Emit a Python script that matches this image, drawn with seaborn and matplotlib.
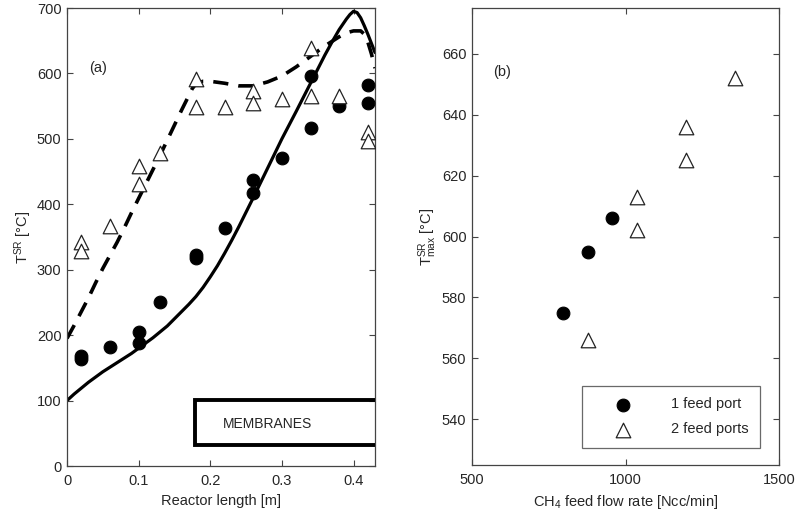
import numpy as np
import pandas as pd
import matplotlib
matplotlib.use('Agg')
import matplotlib.pyplot as plt
from matplotlib.patches import Rectangle
import seaborn as sns

# (a) temperatura ao longo do reator
x_circ = [0.02, 0.02, 0.06, 0.10, 0.10, 0.13, 0.18, 0.18, 0.22, 0.26, 0.26, 0.30, 0.34, 0.34, 0.38, 0.42, 0.42]
t_circ = [168, 163, 182, 205, 188, 250, 323, 318, 364, 437, 417, 470, 596, 517, 550, 583, 555]
x_tri = [0.02, 0.02, 0.06, 0.10, 0.10, 0.13, 0.18, 0.18, 0.22, 0.26, 0.26, 0.30, 0.34, 0.34, 0.38, 0.42, 0.42]
t_tri = [342, 328, 367, 459, 431, 478, 592, 549, 548, 573, 555, 561, 639, 565, 566, 510, 497]

# modelo, 1 porta (linha cheia)
x_sol = [0.0, 0.01, 0.02, 0.03, 0.04, 0.05, 0.06, 0.07, 0.08, 0.09, 0.10, 0.11, 0.12, 0.13, 0.14,
         0.15, 0.16, 0.17, 0.18, 0.19, 0.20, 0.21, 0.22, 0.23, 0.24, 0.25, 0.26, 0.28, 0.30, 0.32,
         0.34, 0.36, 0.37, 0.38, 0.39, 0.395, 0.40, 0.405, 0.41, 0.415, 0.42, 0.425, 0.43]
t_sol = [100, 110, 119, 128, 136, 144, 151, 158, 165, 172, 180, 188, 196, 205, 214,
         225, 236, 247, 259, 273, 289, 306, 325, 345, 366, 388, 410, 455, 500, 542,
         585, 628, 648, 667, 683, 690, 695, 693, 685, 673, 660, 646, 632]

# modelo, 2 portas (tracejada)
x_das = [0.0, 0.01, 0.02, 0.03, 0.04, 0.05, 0.06, 0.07, 0.08, 0.09, 0.10, 0.11, 0.12, 0.13, 0.14,
         0.15, 0.16, 0.17, 0.175, 0.18, 0.19, 0.20, 0.22, 0.24, 0.26, 0.28, 0.30, 0.32, 0.34, 0.36,
         0.38, 0.39, 0.40, 0.41, 0.415, 0.42, 0.425, 0.43]
t_das = [195, 215, 236, 257, 280, 302, 322, 342, 364, 387, 409, 431, 453, 475, 498,
         521, 544, 566, 577, 584, 588, 588, 585, 581, 581, 587, 596, 610, 626, 642,
         656, 662, 665, 665, 660, 648, 630, 608]

# (b) temperatura maxima vs vazao de CH4
q1 = [795, 877, 957]
tmax1 = [575, 595, 606]
q2 = [877, 1037, 1037, 1197, 1197, 1357]
tmax2 = [566, 613, 602, 636, 625, 652]

sns.set_style('white')
plt.rcParams['font.family'] = ['Liberation Sans', 'DejaVu Sans']
plt.rcParams['axes.edgecolor'] = '#444444'
plt.rcParams['mathtext.fontset'] = 'custom'
plt.rcParams['mathtext.rm'] = 'Liberation Sans'
plt.rcParams['mathtext.it'] = 'Liberation Sans'

fig = plt.figure(figsize=(7.96, 5.16), dpi=100)
ax1 = fig.add_axes([67/796, 50/516, 308/796, 458/516])
ax2 = fig.add_axes([472/796, 51/516, 307/796, 457/516])

sns.lineplot(x=x_sol, y=t_sol, ax=ax1, color='black', lw=2.3, sort=False)
sns.lineplot(x=x_das, y=t_das, ax=ax1, color='black', lw=2.6, sort=False)
ax1.lines[-1].set_dashes([4.2, 2.8])
sns.scatterplot(x=x_circ, y=t_circ, ax=ax1, marker='o', color='black', s=85, edgecolor='black', zorder=3)
sns.scatterplot(x=x_tri, y=t_tri, ax=ax1, marker='^', facecolor='white', edgecolor='#222222', s=110, linewidth=0.9, zorder=3)

ax1.add_patch(Rectangle((0.179, 32), 0.26, 69, fill=False, lw=2.8, edgecolor='black', zorder=4))
ax1.text(0.217, 64, 'MEMBRANES', fontsize=10, va='center', ha='left')
ax1.text(0.031, 608, '(a)', fontsize=10.5, va='center')

ax1.set_xlim(0, 0.43)
ax1.set_ylim(0, 700)
ax1.set_xticks([0, 0.1, 0.2, 0.3, 0.4])
ax1.set_xticklabels(['0', '0.1', '0.2', '0.3', '0.4'])
ax1.set_yticks(range(0, 701, 100))
ax1.set_xlabel('Reactor length [m]', fontsize=10.5, labelpad=4)
ax1.set_ylabel('T$^{SR}$ [°C]', fontsize=10.5, labelpad=2)

sns.scatterplot(x=q1, y=tmax1, ax=ax2, marker='o', color='black', s=85, edgecolor='black', label='1 feed port', zorder=3)
sns.scatterplot(x=q2, y=tmax2, ax=ax2, marker='^', facecolor='white', edgecolor='#222222', s=110, linewidth=0.9, label='2 feed ports', zorder=3)
ax2.text(568, 654, '(b)', fontsize=10.5, va='center')

ax2.set_xlim(500, 1500)
ax2.set_ylim(525, 675)
ax2.set_xticks([500, 1000, 1500])
ax2.set_yticks(range(540, 661, 20))
ax2.set_xlabel('CH$_4$ feed flow rate [Ncc/min]', fontsize=10.5, labelpad=4)
ax2.set_ylabel('T$^{SR}_{max}$ [°C]', fontsize=10.5, labelpad=2)
leg = ax2.legend(loc='lower right', bbox_to_anchor=(0.938, 0.037), fontsize=10.5, frameon=True,
                 fancybox=False, edgecolor='#444444', borderpad=0.8, handlelength=4.0,
                 handletextpad=1.3, borderaxespad=0, labelspacing=0.75)
leg.get_frame().set_linewidth(0.9)

for ax in (ax1, ax2):
    ax.tick_params(direction='in', bottom=True, left=True, top=True, right=True, length=4, width=0.8,
                   labelsize=10.5, color='#444444')
    ax.tick_params(axis='x', pad=6)
    ax.tick_params(axis='y', pad=4)
    for sp in ax.spines.values():
        sp.set_linewidth(0.9)

fig.savefig('out.png', dpi=100)
